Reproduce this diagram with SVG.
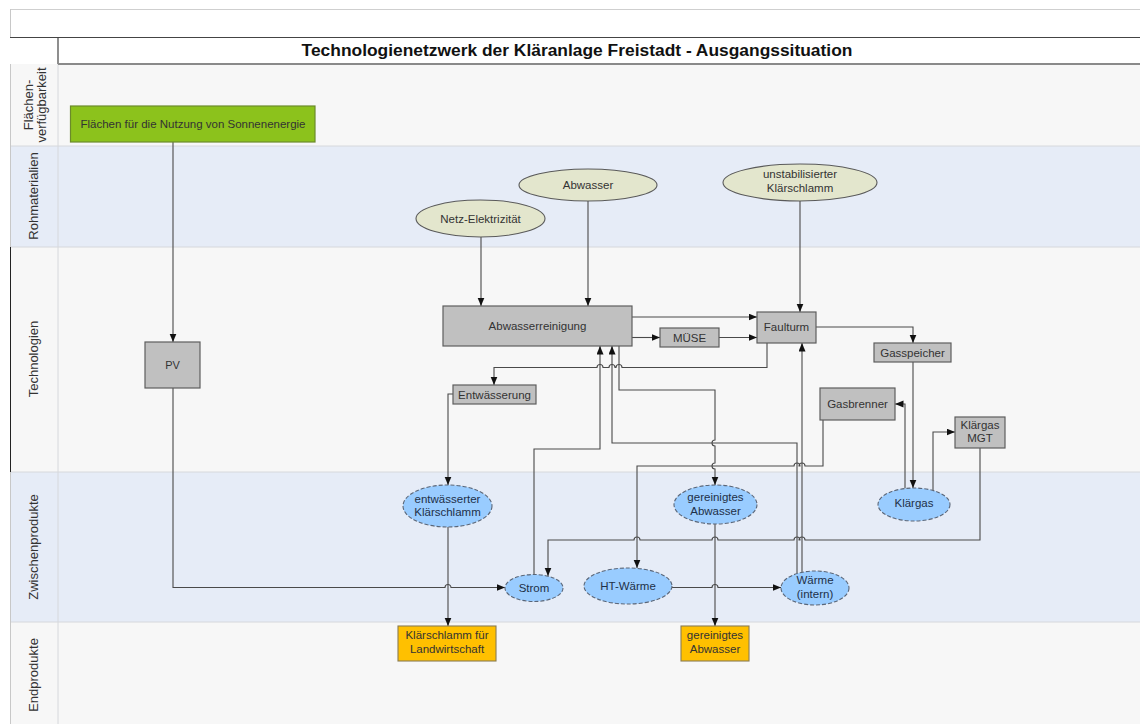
<svg xmlns="http://www.w3.org/2000/svg" width="1140" height="724" viewBox="0 0 1140 724">
  <style>
    .lane-grey { fill: #f7f7f7; }
    .lane-blue { fill: #e6ecf7; }
    .sep { stroke: #d6d8dc; stroke-width: 1; fill: none; }
    .lane-label { font-family: "Liberation Sans", Arial, sans-serif; font-size: 13px; fill: #333; text-anchor: middle; }
    .title { font-family: "Liberation Sans", Arial, sans-serif; font-size: 17.4px; font-weight: bold; fill: #111; text-anchor: middle; }
    .lbl { font-family: "Liberation Sans", Arial, sans-serif; font-size: 11.5px; fill: #333; text-anchor: middle; }
    .lbl-blue { font-family: "Liberation Sans", Arial, sans-serif; font-size: 11.5px; fill: #1e3048; text-anchor: middle; }
    .tech { fill: #c0c0c0; stroke: #5e5e5e; stroke-width: 1.2; }
    .area { fill: #8cc21c; stroke: #6b8a2a; stroke-width: 1.2; }
    .raw { fill: #e3e6cd; stroke: #5a5a5a; stroke-width: 1.1; }
    .inter { fill: #99ccff; stroke: #5a6678; stroke-width: 1.1; stroke-dasharray: 4 2; }
    .final { fill: #ffc000; stroke: #8a7c52; stroke-width: 1.1; }
    .flow { fill: none; stroke: #4a4a4a; stroke-width: 1.1; }
  </style>
  <defs>
    <marker id="arr" markerUnits="userSpaceOnUse" markerWidth="9" markerHeight="8" refX="8.5" refY="3.5" orient="auto">
      <path d="M0,0 L8.5,3.5 L0,7 z" fill="#111"/>
    </marker>
  </defs>

  <!-- page background and swimlanes -->
  <rect x="0" y="0" width="1140" height="724" fill="#ffffff"/>
  <line x1="10" y1="9.5" x2="1140" y2="9.5" stroke="#cfcfcf"/>
  <g id="lanes">
    <rect class="lane-grey" x="10" y="64" width="1130" height="82"/>
    <rect class="lane-blue" x="10" y="146" width="1130" height="101"/>
    <rect class="lane-grey" x="10" y="247" width="1130" height="225"/>
    <rect class="lane-blue" x="10" y="472" width="1130" height="150"/>
    <rect class="lane-grey" x="10" y="622" width="1130" height="102"/>
    <line class="sep" x1="10" y1="146" x2="1140" y2="146"/>
    <line class="sep" x1="10" y1="247" x2="1140" y2="247"/>
    <line class="sep" x1="10" y1="472" x2="1140" y2="472"/>
    <line class="sep" x1="10" y1="622" x2="1140" y2="622"/>
    <line class="sep" x1="58" y1="64" x2="58" y2="724"/>
    <line x1="10.5" y1="9" x2="10.5" y2="724" stroke="#c8c8c8"/>
    <line x1="10.5" y1="247" x2="10.5" y2="472" stroke="#222"/>
    <line x1="10.5" y1="37" x2="10.5" y2="64" stroke="#333"/>
  </g>

  <!-- title band -->
  <g id="title">
    <rect x="10" y="37.5" width="1130" height="26.5" fill="#ffffff"/>
    <line x1="10" y1="37.5" x2="1140" y2="37.5" stroke="#444" stroke-width="1.2"/>
    <line x1="58" y1="37.5" x2="58" y2="64" stroke="#444" stroke-width="1.2"/>
    <line x1="58" y1="64" x2="1140" y2="64" stroke="#8a8a8a" stroke-width="2"/>
    <text class="title" x="577" y="56">Technologienetzwerk der Kläranlage Freistadt - Ausgangssituation</text>
  </g>

  <!-- lane headings -->
  <g id="lane-labels">
    <text class="lane-label" transform="translate(33,105) rotate(-90)">Flächen-</text>
    <text class="lane-label" transform="translate(46,105) rotate(-90)">verfügbarkeit</text>
    <text class="lane-label" transform="translate(38,196) rotate(-90)">Rohmaterialien</text>
    <text class="lane-label" transform="translate(38,359) rotate(-90)">Technologien</text>
    <text class="lane-label" transform="translate(38,547) rotate(-90)">Zwischenprodukte</text>
    <text class="lane-label" transform="translate(38,675) rotate(-90)">Endprodukte</text>
  </g>

  <!-- connectors -->
  <g id="connectors">
    <path class="flow" marker-end="url(#arr)" d="M173,142 V342"/>
    <path class="flow" marker-end="url(#arr)" d="M173,388 V587.5 H445 a3,3 0 0 1 6,0 H505"/>
    <path class="flow" marker-end="url(#arr)" d="M481,237 V306"/>
    <path class="flow" marker-end="url(#arr)" d="M588,201 V306"/>
    <path class="flow" marker-end="url(#arr)" d="M800,201 V312"/>
    <path class="flow" marker-end="url(#arr)" d="M632,317 H757"/>
    <path class="flow" marker-end="url(#arr)" d="M632,337.5 H660"/>
    <path class="flow" marker-end="url(#arr)" d="M719,337.5 H757"/>
    <path class="flow" marker-end="url(#arr)" d="M767,343 V367.5 H622 a3,3 0 0 0 -6,0 H615 a3,3 0 0 0 -6,0 H603 a3,3 0 0 0 -6,0 H494 V385"/>
    <path class="flow" marker-end="url(#arr)" d="M816,327 H913 V343"/>
    <path class="flow" marker-end="url(#arr)" d="M913,362 V488"/>
    <path class="flow" marker-end="url(#arr)" d="M905,488.5 V404 H895"/>
    <path class="flow" marker-end="url(#arr)" d="M933,490.5 V432 H955"/>
    <path class="flow" marker-end="url(#arr)" d="M980,448 V540 H805 a3,3 0 0 0 -6,0 H800 a3,3 0 0 0 -6,0 H718 a3,3 0 0 0 -6,0 H640 a3,3 0 0 0 -6,0 H548 V576"/>
    <path class="flow" marker-end="url(#arr)" d="M534,575 V449 H600 V346"/>
    <path class="flow" marker-end="url(#arr)" d="M797,573.5 V443 H612 V346"/>
    <path class="flow" marker-end="url(#arr)" d="M802,572.5 V343"/>
    <path class="flow" marker-end="url(#arr)" d="M619,346 V390 H715 V440 a3,3 0 0 0 0,6 V463 a3,3 0 0 0 0,6 V485"/>
    <path class="flow" marker-end="url(#arr)" d="M823,420 V466 H805 a3,3 0 0 0 -6,0 H800 a3,3 0 0 0 -6,0 H637 V568"/>
    <path class="flow" marker-end="url(#arr)" d="M715,524 V626"/>
    <path class="flow" marker-end="url(#arr)" d="M672,587.5 H712 a3,3 0 0 1 6,0 H781"/>
    <path class="flow" marker-end="url(#arr)" d="M453,394 H448 V485"/>
    <path class="flow" marker-end="url(#arr)" d="M448,527 V626"/>
  </g>

  <!-- nodes -->
  <g id="n-flaechen">
    <rect class="area" x="70.5" y="106" width="244.5" height="36"/>
    <text class="lbl" x="193" y="128">Flächen für die Nutzung von Sonnenenergie</text>
  </g>
  <g id="n-pv">
    <rect class="tech" x="145" y="342" width="55" height="46"/>
    <text class="lbl" x="172.5" y="369" style="font-size:11px">PV</text>
  </g>
  <g id="n-netz">
    <ellipse class="raw" cx="480.5" cy="218.5" rx="64.5" ry="18.5"/>
    <text class="lbl" x="480.5" y="222.5">Netz-Elektrizität</text>
  </g>
  <g id="n-abwasser">
    <ellipse class="raw" cx="588" cy="185" rx="69" ry="16"/>
    <text class="lbl" x="588" y="188.5">Abwasser</text>
  </g>
  <g id="n-klaerschlamm-roh">
    <ellipse class="raw" cx="800" cy="182.5" rx="77" ry="18.5"/>
    <text class="lbl" x="800" y="178">unstabilisierter</text>
    <text class="lbl" x="800" y="192">Klärschlamm</text>
  </g>
  <g id="n-abwasserreinigung">
    <rect class="tech" x="443" y="306" width="189" height="40"/>
    <text class="lbl" x="537.5" y="330">Abwasserreinigung</text>
  </g>
  <g id="n-muese">
    <rect class="tech" x="660" y="328" width="59" height="19"/>
    <text class="lbl" x="689.5" y="341.5">MÜSE</text>
  </g>
  <g id="n-faulturm">
    <rect class="tech" x="757" y="312" width="59" height="31"/>
    <text class="lbl" x="786.5" y="331">Faulturm</text>
  </g>
  <g id="n-gasspeicher">
    <rect class="tech" x="874" y="343" width="77" height="19"/>
    <text class="lbl" x="912.5" y="356.5">Gasspeicher</text>
  </g>
  <g id="n-gasbrenner">
    <rect class="tech" x="820" y="388" width="75" height="32"/>
    <text class="lbl" x="857.5" y="408">Gasbrenner</text>
  </g>
  <g id="n-mgt">
    <rect class="tech" x="955" y="417" width="50" height="31"/>
    <text class="lbl" x="980" y="429">Klärgas</text>
    <text class="lbl" x="980" y="442">MGT</text>
  </g>
  <g id="n-entwaesserung">
    <rect class="tech" x="453" y="385" width="83" height="19"/>
    <text class="lbl" x="494.5" y="398.5">Entwässerung</text>
  </g>
  <g id="n-entw-schlamm">
    <ellipse class="inter" cx="447.5" cy="506" rx="44.5" ry="21"/>
    <text class="lbl-blue" x="447.5" y="503">entwässerter</text>
    <text class="lbl-blue" x="447.5" y="516">Klärschlamm</text>
  </g>
  <g id="n-ger-abwasser">
    <ellipse class="inter" cx="715.5" cy="504.5" rx="41.5" ry="19.5"/>
    <text class="lbl-blue" x="715.5" y="501">gereinigtes</text>
    <text class="lbl-blue" x="715.5" y="515">Abwasser</text>
  </g>
  <g id="n-klaergas">
    <ellipse class="inter" cx="914" cy="504.5" rx="36" ry="16.5"/>
    <text class="lbl-blue" x="914" y="507">Klärgas</text>
  </g>
  <g id="n-strom">
    <ellipse class="inter" cx="534" cy="588" rx="29" ry="13.5"/>
    <text class="lbl-blue" x="534" y="591.5">Strom</text>
  </g>
  <g id="n-ht-waerme">
    <ellipse class="inter" cx="628" cy="586" rx="44" ry="18"/>
    <text class="lbl-blue" x="628" y="590">HT-Wärme</text>
  </g>
  <g id="n-waerme-intern">
    <ellipse class="inter" cx="815" cy="588" rx="34" ry="17"/>
    <text class="lbl-blue" x="815" y="584">Wärme</text>
    <text class="lbl-blue" x="815" y="598">(intern)</text>
  </g>
  <g id="n-ks-landwirtschaft">
    <rect class="final" x="398" y="626" width="98" height="35"/>
    <text class="lbl" x="447" y="639">Klärschlamm für</text>
    <text class="lbl" x="447" y="653">Landwirtschaft</text>
  </g>
  <g id="n-ger-abwasser-end">
    <rect class="final" x="681" y="626" width="68" height="35"/>
    <text class="lbl" x="715" y="639">gereinigtes</text>
    <text class="lbl" x="715" y="653">Abwasser</text>
  </g>
</svg>
